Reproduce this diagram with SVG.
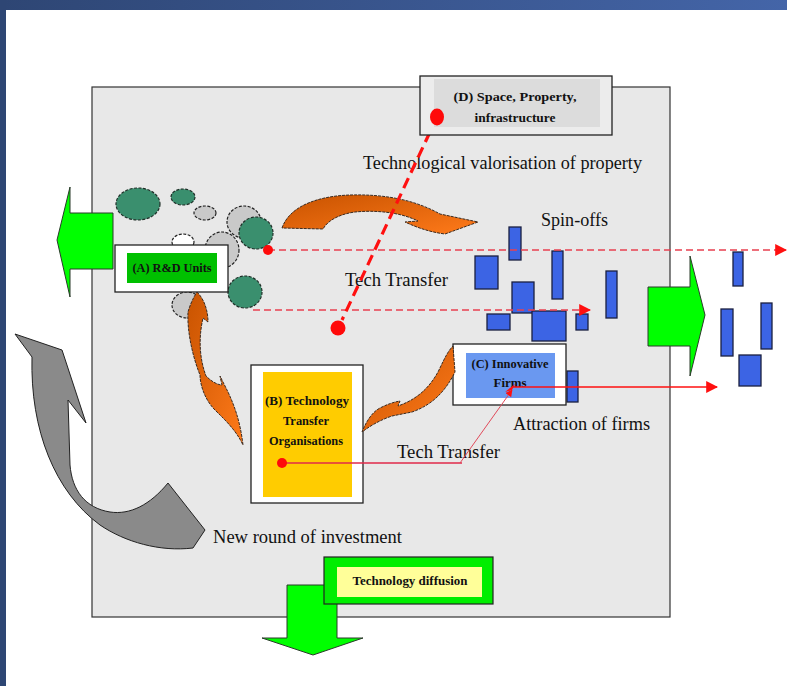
<svg xmlns="http://www.w3.org/2000/svg" width="787" height="686" viewBox="0 0 787 686">
<defs>
<linearGradient id="bar" x1="0" y1="0" x2="1" y2="0">
<stop offset="0" stop-color="#2e4674"/><stop offset="1" stop-color="#4465a8"/>
</linearGradient>
<linearGradient id="orange" x1="0" y1="0" x2="1" y2="1">
<stop offset="0" stop-color="#c85300"/><stop offset="1" stop-color="#ff7a1a"/>
</linearGradient>
<marker id="ah" viewBox="0 0 10 10" refX="9" refY="5" markerWidth="7" markerHeight="7" markerUnits="userSpaceOnUse" orient="auto">
<path d="M0,0 L10,5 L0,10 Z" fill="#ff1010"/>
</marker>
<marker id="ahL" viewBox="0 0 10 10" refX="9" refY="5" markerWidth="12" markerHeight="12" markerUnits="userSpaceOnUse" orient="auto">
<path d="M0,0 L10,5 L0,10 Z" fill="#ff1010"/>
</marker>
</defs>
<style>
.lbl{font-family:"Liberation Serif","Times New Roman",serif;font-size:18px;fill:#111}
.bold{font-family:"Liberation Serif","Times New Roman",serif;font-weight:bold;font-size:13px;fill:#111;text-anchor:middle}
.grn{fill:#3a8f6e;stroke:#1f2f28;stroke-width:1.2;stroke-dasharray:3 1.5}
.gry{fill:#c9c9c9;stroke:#222;stroke-width:1.2;stroke-dasharray:3 1.5}
.wht{fill:#ffffff;stroke:#222;stroke-width:1.2;stroke-dasharray:3 1.5}
.blue{fill:#3c64e4;stroke:#1a1f40;stroke-width:1.3}
.orng{fill:url(#orange);stroke:#3a2a20;stroke-width:1;stroke-dasharray:3 1}
.garrow{fill:#00ff00;stroke:#2a3a2a;stroke-width:1}
.reddash{fill:none;stroke:#e84050;stroke-width:1.6;stroke-dasharray:7 4}
.red{fill:#ff0a0a}
.box{fill:#ffffff;stroke:#222;stroke-width:1.3}
</style>
<rect x="0" y="0" width="787" height="686" fill="#ffffff"/>
<rect x="0" y="0" width="787" height="10" fill="url(#bar)"/>
<rect x="0" y="0" width="6" height="686" fill="#2e4674"/>

<rect x="92" y="87" width="578" height="530" fill="#e8e8e8" stroke="#333" stroke-width="1.2"/>

<!-- left green arrow -->
<path class="garrow" d="M57,240 L70,187 L70,213 L113,213 L113,269 L70,269 L70,297 Z"/>

<!-- bubbles -->
<ellipse class="grn" cx="138" cy="204" rx="22" ry="16"/>
<ellipse class="grn" cx="183" cy="197" rx="12" ry="8"/>
<ellipse class="gry" cx="205" cy="213" rx="11" ry="7"/>
<ellipse class="gry" cx="244" cy="222" rx="17" ry="16"/>
<ellipse class="grn" cx="256" cy="233" rx="17" ry="16"/>
<ellipse class="wht" cx="183" cy="242" rx="11" ry="8"/>
<ellipse class="gry" cx="222" cy="250" rx="17" ry="18"/>
<ellipse class="gry" cx="187" cy="305" rx="15" ry="13"/>
<ellipse class="grn" cx="245" cy="292" rx="17" ry="16"/>

<!-- gray return arrow -->
<path d="M15,334 L62,350 L86,423 L68,400 L70,465 C72,490 85,508 110,512 C130,515 150,505 168,483 L205,530 L193,548 C160,552 125,542 100,525 C55,492 30,430 32,357 Z" fill="#8a8a8a" stroke="#222" stroke-width="1"/>

<!-- blue firms -->
<g id="spinoffs">
<rect class="blue" x="509" y="227" width="12" height="33"/>
<rect class="blue" x="475" y="256" width="23" height="33"/>
<rect class="blue" x="552" y="251" width="11" height="48"/>
<rect class="blue" x="606" y="271" width="11" height="47"/>
<rect class="blue" x="512" y="282" width="22" height="31"/>
<rect class="blue" x="487" y="314" width="23" height="16"/>
<rect class="blue" x="532" y="311" width="34" height="30"/>
<rect class="blue" x="576" y="314" width="12" height="16"/>
<rect class="blue" x="567" y="371" width="11" height="31"/>
<rect class="blue" x="733" y="252" width="10" height="34"/>
<rect class="blue" x="721" y="309" width="12" height="47"/>
<rect class="blue" x="761" y="303" width="11" height="46"/>
<rect class="blue" x="739" y="355" width="22" height="31"/>
</g>

<!-- right green arrow -->
<path class="garrow" d="M648,287 L690,287 L690,256 L705,315 L690,376 L690,346 L648,346 Z"/>
<!-- bottom green arrow -->
<path class="garrow" d="M287,585 L337,585 L337,638 L363,638 L313,655 L262,638 L287,638 Z"/>

<!-- texts -->
<text class="lbl" x="363" y="169" textLength="279" lengthAdjust="spacingAndGlyphs">Technological valorisation of property</text>
<text class="lbl" x="541" y="226" textLength="67" lengthAdjust="spacingAndGlyphs">Spin-offs</text>
<text class="lbl" x="345" y="286" textLength="103" lengthAdjust="spacingAndGlyphs">Tech Transfer</text>
<text class="lbl" x="397" y="458" textLength="103" lengthAdjust="spacingAndGlyphs">Tech Transfer</text>
<text class="lbl" x="513" y="430" textLength="137" lengthAdjust="spacingAndGlyphs">Attraction of firms</text>
<text class="lbl" x="213" y="543" textLength="189" lengthAdjust="spacingAndGlyphs">New round of investment</text>

<g id="nodeA">
<rect class="box" x="115" y="245" width="113" height="47"/>
<rect x="127" y="253" width="90" height="30" fill="#00c000"/>
<text class="bold" x="172" y="272" font-size="12" textLength="79" lengthAdjust="spacingAndGlyphs">(A) R&amp;D Units</text>
</g>

<g id="nodeB">
<rect class="box" x="251" y="365" width="112" height="138"/>
<rect x="263" y="372" width="89" height="125" fill="#ffcc00"/>
<text class="bold" x="307" y="405" textLength="84" lengthAdjust="spacingAndGlyphs">(B) Technology</text>
<text class="bold" x="306" y="425" textLength="46" lengthAdjust="spacingAndGlyphs">Transfer</text>
<text class="bold" x="306" y="445" textLength="74" lengthAdjust="spacingAndGlyphs">Organisations</text>
</g>

<g id="nodeC">
<rect class="box" x="453" y="344" width="113" height="61"/>
<rect x="466" y="353" width="89" height="45" fill="#6a98f0"/>
<text class="bold" x="510" y="368" fill="#1a1a40" textLength="77" lengthAdjust="spacingAndGlyphs">(C) Innovative</text>
<text class="bold" x="510" y="387" fill="#1a1a40" textLength="33" lengthAdjust="spacingAndGlyphs">Firms</text>
</g>

<!-- connectors -->
<g id="connectors">
<path class="orng" d="M282,228 C290,205 320,196 350,195 C385,194 415,200 440,214 L478,222 L445,234 C430,232 418,228 405,222 L418,221 C400,212 375,210 355,212 C340,214 328,220 323,229 Z"/>
<path class="orng" d="M197,292 C205,300 208,312 208,322 L203,318 C198,340 200,360 206,376 C212,382 218,385 222,385 L220,376 L228,392 C234,405 240,420 243,445 C236,430 225,420 215,410 C205,400 200,385 200,375 C192,355 187,330 188,312 C190,305 193,298 197,292 Z"/>
<path class="orng" d="M453,346 L455,372 C445,392 432,405 412,412 L392,416 C380,420 370,426 362,432 C366,422 372,412 380,408 C388,404 394,402 400,401 L398,406 C415,400 428,390 438,372 C443,362 447,352 453,346 Z"/>
<line class="reddash" x1="268" y1="250" x2="786" y2="250" marker-end="url(#ahL)"/>
<line class="reddash" x1="253" y1="310" x2="590" y2="310" marker-end="url(#ahL)"/>
<line x1="430" y1="132" x2="342" y2="320" stroke="#ff1010" stroke-width="3.2" stroke-dasharray="11 6"/>
<path d="M282,463 L462,463" fill="none" stroke="#e02a4a" stroke-width="1.6"/>
<path d="M460,463 L512,390" fill="none" stroke="#e04a5a" stroke-width="1" marker-end="url(#ah)"/>
<line x1="513" y1="387" x2="717" y2="387" stroke="#ff1010" stroke-width="1.6" marker-end="url(#ahL)"/>
<path d="M512,390 L505,392 L515,384 Z" fill="#ff1010"/>
</g>

<!-- dots -->
<circle class="red" cx="268" cy="250" r="5"/>
<circle class="red" cx="338" cy="328" r="7.5"/>
<circle class="red" cx="282" cy="463" r="5"/>

<g id="nodeD">
<rect x="420" y="76" width="192" height="59" fill="#ececec" stroke="#222" stroke-width="1.3"/>
<rect x="434" y="79" width="166" height="48" fill="#dcdcdc"/>
<text class="bold" x="515" y="101" textLength="123" lengthAdjust="spacingAndGlyphs">(D) Space, Property,</text>
<text class="bold" x="515" y="122" textLength="81" lengthAdjust="spacingAndGlyphs">infrastructure</text>
<ellipse class="red" cx="437" cy="117" rx="7" ry="8.5"/>
</g>

<g id="diffusion">
<rect x="324" y="557" width="169" height="47" fill="#00ee00" stroke="#222" stroke-width="1.2"/>
<rect x="337" y="567" width="145" height="30" fill="#ffff99"/>
<text class="bold" x="410" y="585" font-size="12" textLength="115" lengthAdjust="spacingAndGlyphs">Technology diffusion</text>
</g>
</svg>
